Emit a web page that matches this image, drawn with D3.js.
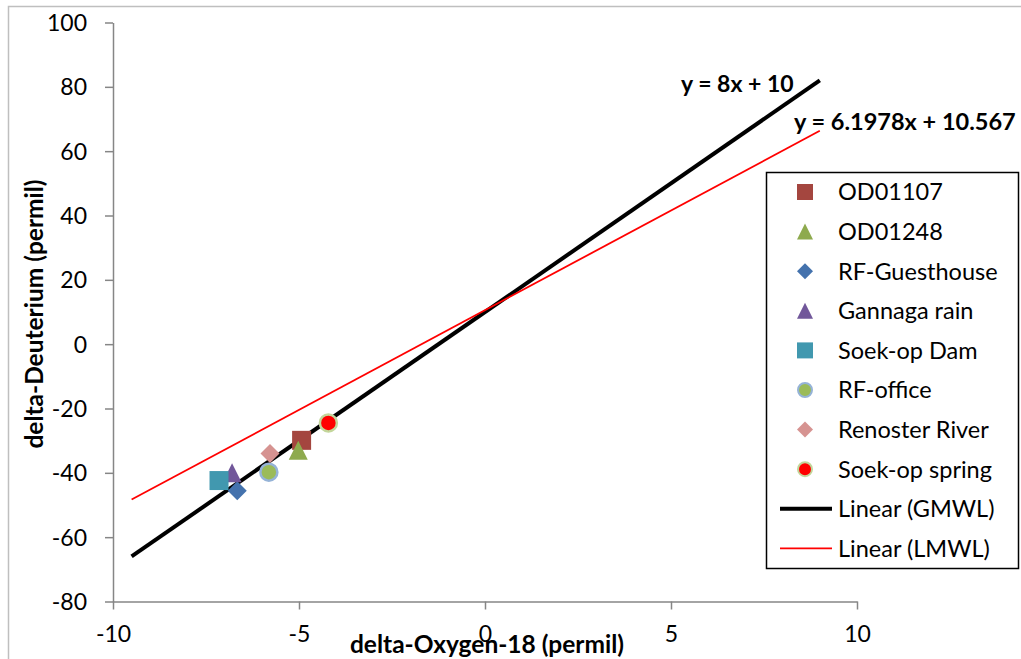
<!DOCTYPE html>
<html>
<head>
<meta charset="utf-8">
<script src="https://cdn.jsdelivr.net/npm/d3@7"></script>
<style>
body{margin:0;background:#fff;}
text{font-family:Lato,"Open Sans",sans-serif;fill:#000;}
.eje path,.eje line{stroke:#868686;stroke-width:1.5;}
</style>
</head>
<body>
<div id="grafico"></div>
<script>

// series (delta-O18, delta-D)
var nombres = ["OD01107","OD01248","RF-Guesthouse","Gannaga rain","Soek-op Dam","RF-office","Renoster River","Soek-op spring"];
var valoresX = [-4.93,-5.02,-6.66,-6.8,-7.15,-5.81,-5.78,-4.21];
var valoresY = [-29.9,-33.0,-45.6,-40.0,-42.4,-39.8,-34.0,-24.5];
var formas = ["square","triangle","diamond","triangle","square","circle","diamond","circle"];
var rellenos = ["#A4463F","#8EAA4E","#4472AD","#71579A","#4198AF","#9BBB59","#D69391","#FF0000"];
var bordes = [null,null,null,null,null,"#95B3D7",null,"#C3D69B"];

// trend lines
var lineasNombre = ["Linear (GMWL)","Linear (LMWL)"];
var pendientes = [8,6.1978];
var interceptos = [10,10.567];
var rangoX = [-9.5,9];
var etiquetasEc = ["y = 8x + 10","y = 6.1978x + 10.567"];

var ticksX = [-10,-5,0,5,10];
var ticksY = [-80,-60,-40,-20,0,20,40,60,80,100];

var W = 1021, H = 659;
var svg = d3.select("#grafico").append("svg")
	.attr("width",W).attr("height",H);

// marco del grafico
svg.append("rect")
	.attr("x",8.5).attr("y",6.5)
	.attr("width",1100).attr("height",700)
	.attr("fill","none").attr("stroke","#bfbfbf").attr("stroke-width",1.5);

var x = d3.scaleLinear().domain([-10,10]).range([113,857]);
var y = d3.scaleLinear().domain([-80,100]).range([601.5,22.5]);
var fmt = function(d){return String(d);};

var ejeY = svg.append("g").attr("class","eje")
	.attr("transform","translate("+x(-10)+",0)")
	.call(d3.axisLeft(y).tickValues(ticksY).tickFormat(fmt).tickSize(8).tickPadding(18).tickSizeOuter(0));
ejeY.selectAll("text").style("font-size","23px").attr("dy","0.35em");

var ejeX = svg.append("g").attr("class","eje")
	.attr("transform","translate(0,"+y(-80)+")")
	.call(d3.axisBottom(x).tickValues(ticksX).tickFormat(fmt).tickSize(8).tickPadding(16).tickSizeOuter(0));
ejeX.selectAll("text").style("font-size","23px").attr("dy","0.71em");

// titulos
svg.append("text")
	.attr("x",x(0)+2).attr("y",653)
	.attr("text-anchor","middle")
	.style("font-size","24.5px").style("font-weight","bold")
	.text("delta-Oxygen-18 (permil)");
svg.append("text")
	.attr("transform","translate(43,314) rotate(-90)")
	.attr("text-anchor","middle")
	.style("font-size","24.5px").style("font-weight","bold")
	.text("delta-Deuterium (permil)");

// lineas de tendencia
var colLinea = ["#000","#FF0000"];
var grosor = [4,1.8];
for(var i=0;i<2;i++){
	var m = pendientes[i], b = interceptos[i];
	svg.append("line")
		.attr("x1",x(rangoX[0])).attr("y1",y(m*rangoX[0]+b))
		.attr("x2",x(rangoX[1])).attr("y2",y(m*rangoX[1]+b))
		.attr("stroke",colLinea[i]).attr("stroke-width",grosor[i]);
}
svg.append("text").attr("x",681).attr("y",92)
	.style("font-size","23px").style("font-weight","bold").text(etiquetasEc[0]);
svg.append("text").attr("x",794).attr("y",130)
	.style("font-size","23.5px").style("font-weight","bold").text(etiquetasEc[1]);

function formaPath(f,s){
	var h = s/2;
	if(f=="square") return "M"+(-h)+","+(-h)+"h"+s+"v"+s+"h"+(-s)+"Z";
	if(f=="triangle") return "M0,"+(-h)+"L"+h+","+h+"L"+(-h)+","+h+"Z";
	if(f=="diamond") return "M0,"+(-h)+"L"+h+",0L0,"+h+"L"+(-h)+",0Z";
	return d3.symbol(d3.symbolCircle,Math.PI*h*h)();
}

// puntos
var datos = nombres.map(function(n,i){
	return {nombre:n,x:valoresX[i],y:valoresY[i],forma:formas[i],color:rellenos[i],borde:bordes[i]};
});
svg.append("g").attr("class","puntos").selectAll("path").data(datos).enter()
	.append("path")
	.attr("d",function(d){return formaPath(d.forma,d.forma=="circle"?17:19);})
	.attr("transform",function(d){return "translate("+x(d.x)+","+y(d.y)+")";})
	.attr("fill",function(d){return d.color;})
	.attr("stroke",function(d){return d.borde||"none";})
	.attr("stroke-width",2.5);

// leyenda
var ley = svg.append("g").attr("transform","translate(766,172)");
ley.append("rect").attr("x",0.5).attr("y",0.5).attr("width",252).attr("height",396)
	.attr("fill","#fff").attr("stroke","#000").attr("stroke-width",1.5);
var paso = 39.6;
datos.forEach(function(d,i){
	var g = ley.append("g").attr("transform","translate(0,"+(20+paso*i)+")");
	g.append("path")
		.attr("d",formaPath(d.forma,d.forma=="circle"?14:16))
		.attr("transform","translate(39,0)")
		.attr("fill",d.color)
		.attr("stroke",d.borde||"none").attr("stroke-width",2);
	g.append("text").attr("x",72).attr("dy","0.36em")
		.style("font-size","23.5px").text(d.nombre);
});
lineasNombre.forEach(function(n,j){
	var g = ley.append("g").attr("transform","translate(0,"+(20+paso*(8+j))+")");
	g.append("line").attr("x1",14).attr("x2",66).attr("y1",0).attr("y2",0)
		.attr("stroke",colLinea[j]).attr("stroke-width",grosor[j]);
	g.append("text").attr("x",72).attr("dy","0.36em")
		.style("font-size","23.5px").text(n);
});
</script>
</body>
</html>
